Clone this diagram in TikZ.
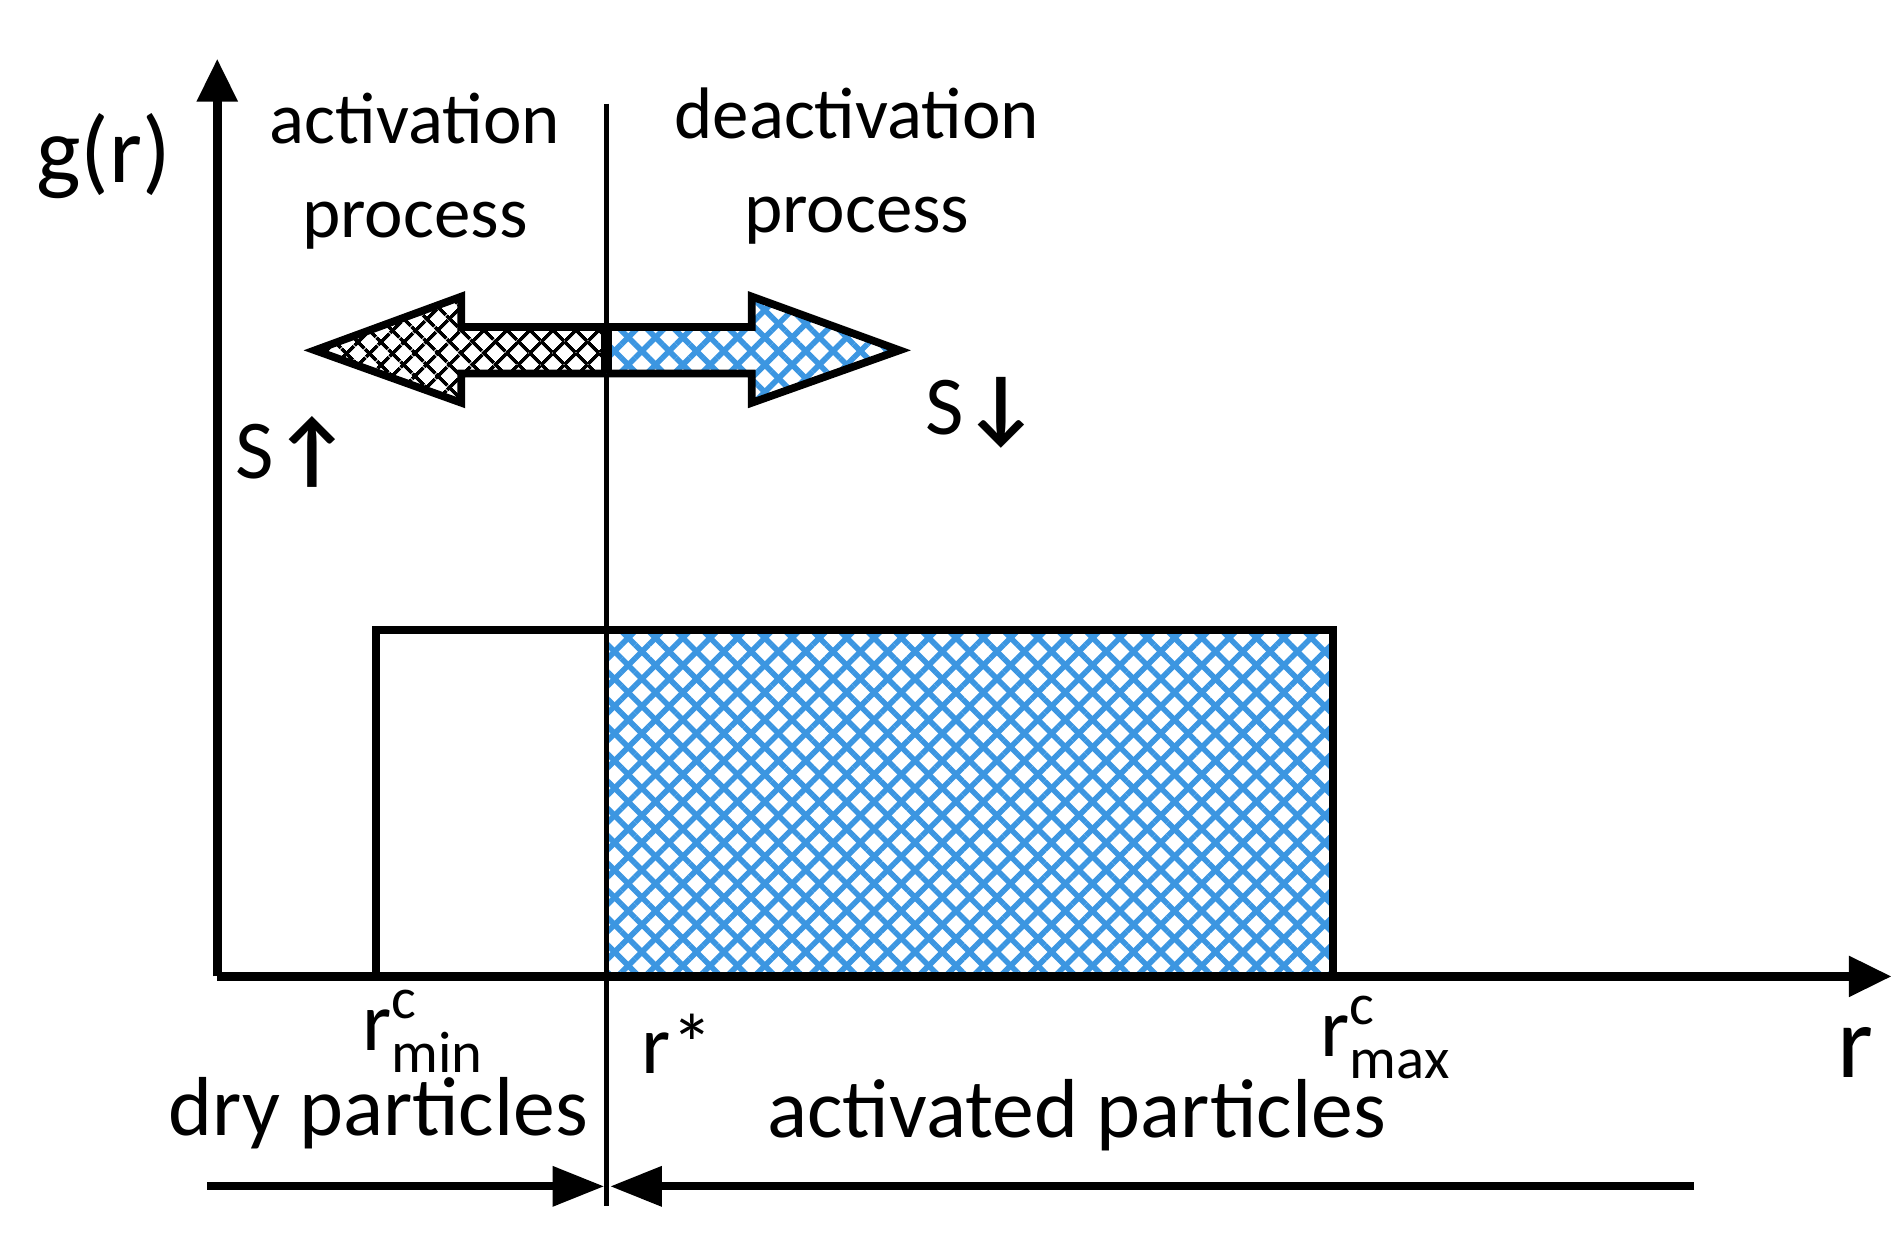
\documentclass[tikz,border=0pt]{standalone}
\usepackage{fontspec}
\setmainfont{Carlito}
\usetikzlibrary{patterns,patterns.meta,arrows.meta}
\definecolor{hblue}{RGB}{60,150,225}
\begin{document}
\begin{tikzpicture}[x=0.01cm,y=-0.01cm,
  axis/.style={line width=2.2pt,-{Triangle[length=10pt,width=9pt]}},
  lbl/.style={font=\fontsize{17}{20}\selectfont,align=center},
  big/.style={font=\fontsize{19.5}{22}\selectfont},
  blk/.style={line width=1.8pt},
  bhatch/.style={postaction={pattern={Lines[angle=45,distance=4.5pt,line width=1.3pt]},pattern color=hblue},
                 postaction={pattern={Lines[angle=-45,distance=4.5pt,line width=1.3pt]},pattern color=hblue}},
  khatch/.style={postaction={pattern={Lines[angle=45,distance=4pt,line width=0.9pt]},pattern color=black},
                 postaction={pattern={Lines[angle=-45,distance=4pt,line width=0.9pt]},pattern color=black}}]
\useasboundingbox (0,0) rectangle (1560,1015);
% box
\path[bhatch] (497,516) rectangle (1092,800);
\draw[blk] (308,800) -- (308,516) -- (1092,516) -- (1092,800);
% axes
\coordinate (o) at (178,800);
\coordinate (ytop) at (178,48);
\coordinate (xend) at (1550,800);
\draw[axis] (o) -- (ytop);
\draw[axis] (o) -- (xend);
% divider
\coordinate (vt) at (497,85);
\coordinate (vb) at (497,988);
\draw[line width=1pt] (vt) -- (vb);
% double arrow
\path[khatch] (497,268) -- (378,268) -- (378,243) -- (258,287) -- (378,330) -- (378,306) -- (497,306) -- cycle;
\draw[line width=1.8pt] (497,268) -- (378,268) -- (378,243) -- (258,287) -- (378,330) -- (378,306) -- (497,306);
\path[bhatch] (497,268) -- (616,268) -- (616,243) -- (737,287) -- (616,330) -- (616,306) -- (497,306) -- cycle;
\draw[line width=1.8pt] (497,268) -- (616,268) -- (616,243) -- (737,287) -- (616,330) -- (616,306) -- (497,306);
\draw[line width=2.4pt] (497,268) -- (497,306);
% texts
\node[font=\fontsize{22}{26}\selectfont] (g) at (85,128) {g(r)};
\node[lbl] (act) at (340,140) {activation\\[2pt]process};
\node[lbl] (deact) at (702,136) {deactivation\\[2pt]process};
\node[big] (su) at (240,370) {S\textbf{↑}};
\node[big] (sd) at (805,338) {S\textbf{↓}};
\node[big] (rmin) at (347,845) {r$^{\mathrm{c}}_{\mathrm{min}}$};
\node[big] (rs) at (555,855) {r*};
\node[big] (rmax) at (1136,850) {r$^{\mathrm{c}}_{\mathrm{max}}$};
\node[font=\fontsize{24}{28}\selectfont] (r) at (1520,862) {r};
\node[big] (dry) at (310,912) {dry particles};
\node[big] (actp) at (882,914) {activated particles};
% bottom arrows
\coordinate (dl) at (170,972);
\coordinate (dr) at (495,972);
\coordinate (al) at (500,972);
\coordinate (ar) at (1388,972);
\draw[blk,-{Triangle[length=12pt,width=9pt]}] (dl) -- (dr);
\draw[blk,-{Triangle[length=12pt,width=9pt]}] (ar) -- (al);
\end{tikzpicture}
\end{document}
